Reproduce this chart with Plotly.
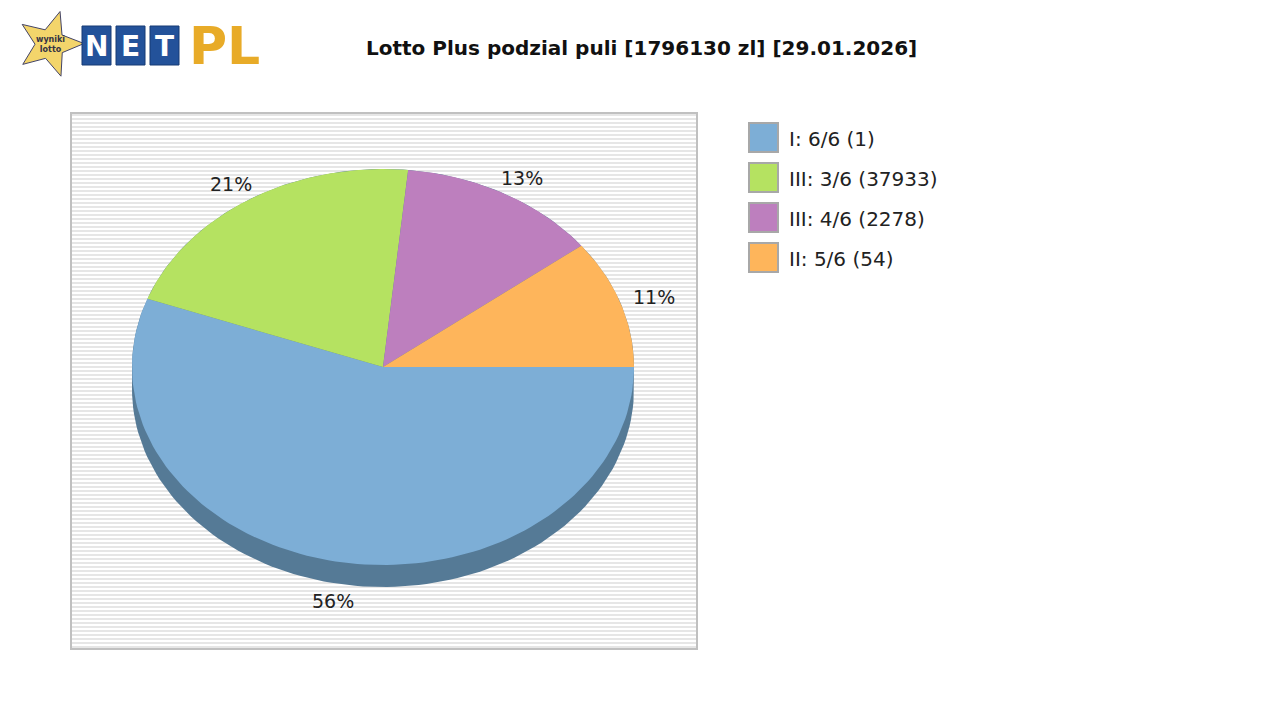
import numpy as np
import plotly.graph_objects as go

labels = ["I: 6/6 (1)", "III: 3/6 (37933)", "III: 4/6 (2278)", "II: 5/6 (54)"]
shares = [55.6, 21.0, 12.9, 10.5]
pct_text = ["56%", "21%", "13%", "11%"]
colors = ["#7daed6", "#b5e261", "#bd7fbe", "#feb55b"]
title = "Lotto Plus podzial puli [1796130 zl] [29.01.2026]"

cx, cy, rx, ry, depth = 383, 367, 251, 198, 22

fig = go.Figure()
shapes = []

# striped plot background
for y in range(114, 648, 4):
    shapes.append(dict(type="rect", x0=72, x1=696, y0=y, y1=y + 2,
                       fillcolor="#e6e6e6", line_width=0, layer="below"))
shapes.append(dict(type="rect", x0=71, x1=697, y0=113, y1=649,
                   line=dict(color="#c0c0c0", width=2), layer="below"))

# extruded base (shadow)
t1 = np.linspace(np.pi, 2 * np.pi, 100)
t2 = np.linspace(0, np.pi, 100)
sx = np.concatenate([cx + rx * np.cos(t1), cx + rx * np.cos(t2)])
sy = np.concatenate([cy + ry * np.sin(t1), cy + depth + ry * np.sin(t2)])
fig.add_trace(go.Scatter(x=sx, y=sy, fill="toself", fillcolor="#557a96",
                         line=dict(width=0), mode="lines", hoverinfo="skip"))

# slices, clockwise from 3 o'clock
total = sum(shares)
start = 0.0
for lab, v, c, txt in zip(labels, shares, colors, pct_text):
    a0 = start / total * 2 * np.pi
    a1 = (start + v) / total * 2 * np.pi
    t = np.linspace(a0, a1, 120)
    px_ = np.concatenate([[cx], cx + rx * np.cos(t), [cx]])
    py_ = np.concatenate([[cy], cy + ry * np.sin(t), [cy]])
    fig.add_trace(go.Scatter(x=px_, y=py_, fill="toself", fillcolor=c,
                             line=dict(width=0), mode="lines", name=lab, hoverinfo="name"))
    am = (a0 + a1) / 2
    lx = cx + rx * 1.14 * np.cos(am)
    ly = cy + ry * 1.09 * np.sin(am) + (depth if np.sin(am) > 0 else 0)
    fig.add_annotation(x=lx, y=ly, text=txt, showarrow=False,
                       font=dict(size=19, color="#222222"))
    start += v

# legend
for i, (lab, c) in enumerate(zip(labels, colors)):
    y0 = 123 + 40 * i
    shapes.append(dict(type="rect", x0=749, x1=778, y0=y0, y1=y0 + 29, fillcolor=c,
                       line=dict(color="#a8a8a8", width=2)))
    fig.add_annotation(x=787, y=y0 + 16, text=lab, showarrow=False, xanchor="left",
                       font=dict(size=20, color="#222222"))

# logo
star_t = np.linspace(-np.pi / 2, 1.5 * np.pi, 11)[:-1]
star_r = np.array([34, 15] * 5)
stx = 50 + star_r * np.cos(star_t + 0.3)
sty = 44 + star_r * np.sin(star_t + 0.3)
fig.add_trace(go.Scatter(x=np.append(stx, stx[0]), y=np.append(sty, sty[0]), fill="toself",
                         fillcolor="#f3d56b", line=dict(color="#444466", width=1),
                         mode="lines", hoverinfo="skip"))
fig.add_annotation(x=50, y=44, text="<b>wyniki<br>lotto</b>", showarrow=False,
                   font=dict(size=8, color="#334"))
for i, ch in enumerate("NET"):
    x0 = 82 + 34 * i
    shapes.append(dict(type="rect", x0=x0, x1=x0 + 29, y0=26, y1=65,
                       fillcolor="#23529a", line=dict(color="#173b75", width=1)))
    fig.add_annotation(x=x0 + 14.5, y=46, text=f"<b>{ch}</b>", showarrow=False,
                       font=dict(size=28, color="white", family="DejaVu Sans"))
fig.add_annotation(x=187, y=46, text="<b>PL</b>", showarrow=False, xanchor="left",
                   font=dict(size=52, color="#e8ab28", family="DejaVu Sans"))

fig.add_annotation(x=641, y=48, text=f"<b>{title}</b>", showarrow=False,
                   font=dict(size=20, color="#111111"))

# page body has an 8px margin, so shift ranges to keep pixel coordinates
fig.update_layout(
    width=1280, height=720, margin=dict(l=0, r=0, t=0, b=0),
    paper_bgcolor="white", plot_bgcolor="white", showlegend=False,
    font=dict(family="DejaVu Sans"), shapes=shapes,
    xaxis=dict(range=[8, 1288], visible=False, fixedrange=True),
    yaxis=dict(range=[728, 8], visible=False, fixedrange=True),
)
fig.write_html("out.html")
